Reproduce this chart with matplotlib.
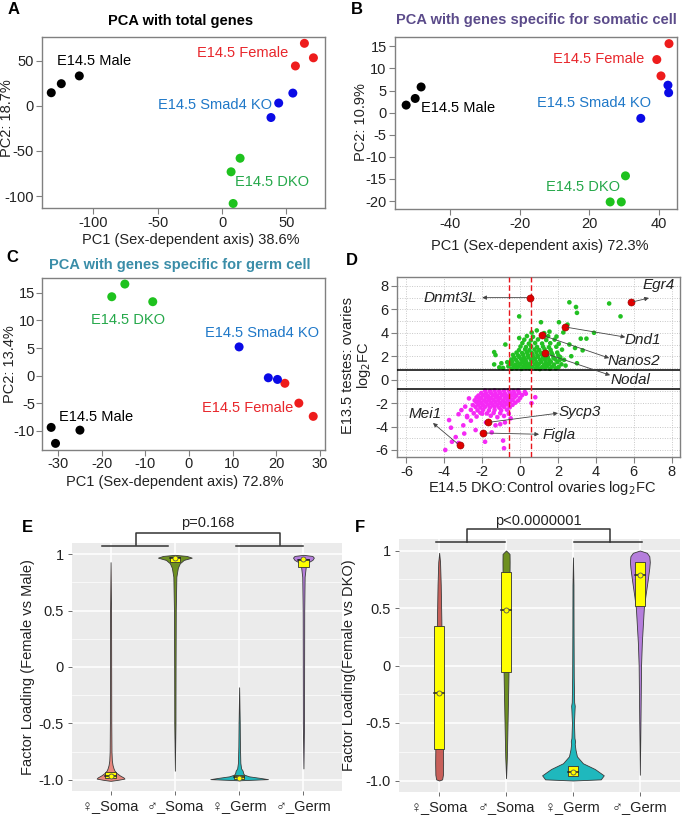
import numpy as np
import matplotlib
matplotlib.use('Agg')
import matplotlib.pyplot as plt
from matplotlib.patches import Rectangle

plt.rcParams['font.family'] = ['Liberation Sans', 'DejaVu Sans']
plt.rcParams['axes.unicode_minus'] = False

# ---------------- data ----------------
# Panel A: PCA with total genes
a_male_x = [-132.8, -125.0, -111.0]; a_male_y = [14.4, 24.4, 33.0]
a_female_x = [64.0, 71.0, 57.0];     a_female_y = [69.0, 53.0, 44.0]
a_smad4_x = [55.0, 44.0, 38.0];      a_smad4_y = [14.0, 3.0, -13.0]
a_dko_x = [14.0, 7.0, 8.6];          a_dko_y = [-58.0, -73.0, -108.0]

# Panel B: PCA somatic genes
b_male_x = [-52.6, -50.0, -48.3];    b_male_y = [1.7, 3.2, 5.8]
b_female_x = [42.9, 39.4, 40.6];     b_female_y = [15.6, 12.0, 8.3]
b_smad4_x = [42.6, 42.8, 34.8];      b_smad4_y = [6.2, 4.5, -1.3]
b_dko_x = [30.4, 26.0, 29.2];        b_dko_y = [-14.3, -20.2, -20.2]

# Panel C: PCA germ genes
c_male_x = [-31.6, -30.6, -25.0];    c_male_y = [-9.4, -12.3, -9.9]
c_female_x = [22.0, 25.2, 28.5];     c_female_y = [-1.4, -5.0, -7.4]
c_smad4_x = [11.5, 18.2, 20.3];      c_smad4_y = [5.2, -0.4, -0.7]
c_dko_x = [-17.7, -14.7, -8.3];      c_dko_y = [14.3, 16.6, 13.4]

# Panel D: scatter of log2FC
d_up_points = [
    (-0.45,0.93),(-0.18,0.97),(0.07,0.92),(0.31,0.99),(0.52,0.94),(0.83,0.96),(1.04,0.91),(1.33,0.98),(1.57,0.93),(1.88,0.97),
    (-0.62,1.14),(-0.33,1.08),(-0.08,1.16),(0.17,1.10),(0.42,1.15),(0.63,1.07),(0.92,1.13),(1.17,1.09),(1.42,1.16),(1.68,1.11),(2.03,1.08),
    (-0.48,1.31),(-0.27,1.27),(0.02,1.33),(0.24,1.28),(0.51,1.34),(0.77,1.29),(0.98,1.32),(1.27,1.26),(1.52,1.33),(1.79,1.29),(2.18,1.31),
    (-0.68,1.49),(-0.42,1.53),(-0.13,1.47),(0.12,1.52),(0.33,1.48),(0.62,1.54),(0.86,1.49),(1.12,1.51),(1.36,1.46),(1.62,1.53),(1.97,1.50),
    (-0.47,1.72),(-0.21,1.68),(0.06,1.73),(0.29,1.67),(0.56,1.71),(0.79,1.74),(1.06,1.69),(1.31,1.72),(1.54,1.66),(1.86,1.73),(2.32,1.69),
    (-0.31,1.88),(-0.04,1.93),(0.21,1.87),(0.44,1.92),(0.71,1.89),(0.96,1.94),(1.21,1.88),(1.46,1.91),(1.76,1.86),(2.12,1.92),
    (-0.38,2.11),(-0.11,2.07),(0.16,2.13),(0.41,2.08),(0.66,2.12),(0.91,2.06),(1.16,2.14),(1.41,2.09),(1.71,2.12),(2.02,2.07),
    (-0.19,2.31),(0.11,2.27),(0.36,2.33),(0.61,2.28),(0.86,2.32),(1.11,2.26),(1.38,2.34),(1.66,2.29),(1.96,2.31),
    (-0.06,2.52),(0.26,2.58),(0.49,2.51),(0.76,2.57),(1.01,2.53),(1.29,2.59),(1.61,2.54),(2.21,2.56),
    (0.02,2.83),(0.31,2.78),(0.58,2.84),(0.89,2.79),(1.21,2.82),(1.52,2.77),(1.91,2.81),
    (0.12,3.12),(0.46,3.07),(0.79,3.13),(1.16,3.08),(1.59,3.11),(2.04,3.06),
    (0.22,3.41),(0.57,3.36),(0.94,3.43),(1.38,3.38),(1.82,3.42),
    (0.36,3.72),(0.68,3.66),(1.48,3.71),(1.92,3.68),(-0.05,3.55),
    (0.61,4.02),(1.27,3.97),(2.28,4.03),(0.88,4.2),(1.55,4.1),
    (-1.37,2.35),(-1.3,2.1),(-0.78,3.0),(-0.99,1.4),(-1.37,1.3),(-0.05,5.4),(1.1,4.9),(2.05,4.9),
    (2.6,6.6),(2.95,6.2),(3.0,5.7),(3.9,4.0),(4.7,6.5),(5.3,5.4),(3.0,1.4),(3.3,2.5),(2.1,1.7),
    (2.5,4.7),(3.5,3.5),(3.2,3.5),(2.7,2.0),(2.6,3.0),(2.4,1.2),(-0.9,1.0),(-1.1,1.05),(2.9,2.7),
]
d_down_points = [
    (-1.85,-0.93),(-1.6,-0.97),(-1.35,-0.92),(-1.1,-0.98),(-0.85,-0.94),(-0.6,-0.9),(-0.35,-0.96),(-0.1,-0.92),(0.25,-1.05),
    (-2.05,-1.14),(-1.8,-1.18),(-1.55,-1.12),(-1.3,-1.17),(-1.05,-1.13),(-0.8,-1.19),(-0.55,-1.11),(-0.3,-1.16),(-0.05,-1.12),(0.3,-1.2),
    (-2.2,-1.36),(-1.95,-1.32),(-1.7,-1.38),(-1.45,-1.33),(-1.2,-1.37),(-0.95,-1.31),(-0.7,-1.39),(-0.45,-1.34),(-0.2,-1.36),(0.1,-1.33),
    (-2.3,-1.52),(-2.05,-1.57),(-1.8,-1.53),(-1.55,-1.58),(-1.3,-1.51),(-1.05,-1.56),(-0.8,-1.54),(-0.55,-1.59),(-0.3,-1.52),(0.0,-1.56),(0.8,-1.5),
    (-2.4,-1.77),(-2.15,-1.73),(-1.9,-1.78),(-1.65,-1.72),(-1.4,-1.76),(-1.15,-1.74),(-0.9,-1.79),(-0.65,-1.71),(-0.4,-1.75),(-0.1,-1.78),
    (-2.3,-1.94),(-2.05,-1.98),(-1.8,-1.92),(-1.55,-1.97),(-1.3,-1.93),(-1.05,-1.99),(-0.8,-1.95),(-0.55,-1.91),(-0.25,-1.96),(0.6,-2.0),
    (-2.5,-2.17),(-2.2,-2.13),(-1.95,-2.18),(-1.7,-2.12),(-1.45,-2.16),(-1.2,-2.14),(-0.95,-2.19),(-0.7,-2.11),(-0.4,-2.15),
    (-2.35,-2.33),(-2.1,-2.38),(-1.85,-2.32),(-1.6,-2.37),(-1.35,-2.34),(-1.1,-2.39),(-0.85,-2.31),(-0.55,-2.36),
    (-2.6,-2.58),(-2.25,-2.62),(-1.95,-2.57),(-1.65,-2.63),(-1.35,-2.59),(-1.0,-2.61),(-0.7,-2.56),
    (-2.45,-2.87),(-2.1,-2.83),(-1.75,-2.88),(-1.4,-2.84),(-1.05,-2.86),(-0.6,-2.9),
    (-2.8,-3.1),(-2.3,-3.15),(-1.55,-3.08),(-1.2,-3.2),(-0.85,-3.1),
    (-2.2,-1.5),(-2.3,-1.9),(-3.75,-3.45),(-3.65,-4.1),(-3.4,-4.9),(-3.95,-6.0),(-2.95,-4.6),
    (-2.35,-4.3),(-1.8,-3.65),(-0.8,-3.65),(-0.85,-5.85),(-0.9,-5.2),(-1.3,-3.9),(-1.05,-3.8),
    (-3.25,-2.95),(-3.1,-2.6),(-2.8,-3.2),(-2.6,-3.5),(-2.0,-2.9),(-3.6,-5.3),(-1.85,-5.3),
    (-3.25,-5.4),(-2.9,-2.3),(-2.7,-1.6),(-3.0,-3.9),(-1.5,-4.5),(-0.5,-3.3),
]
d_genes = ['Dnmt3L', 'Egr4', 'Dnd1', 'Nanos2', 'Nodal', 'Sycp3', 'Figla', 'Mei1']
d_gene_x = [0.5, 5.85, 2.35, 1.15, 1.3, -1.7, -1.95, -3.2]
d_gene_y = [7.0, 6.6, 4.5, 3.8, 2.25, -3.65, -4.55, -5.6]
d_fc_x_cut = 0.58
d_fc_y_cut = 0.81

# Panels E/F: violin density profiles (half widths, in px)
cats = ['\u2640_Soma', '\u2642_Soma', '\u2640_Germ', '\u2642_Germ']
e_fs_y = [-1.01, -1.0, -0.99, -0.98, -0.96, -0.94, -0.92, -0.9, -0.87, -0.83, -0.75, -0.5, 0.0, 0.5, 0.93]
e_fs_d = [0, 8, 14, 13, 9, 6, 4, 3, 2, 1.3, 0.9, 0.7, 0.6, 0.5, 0]
e_ms_y = [-0.92, -0.5, 0, 0.5, 0.8, 0.88, 0.92, 0.95, 0.97, 0.985, 0.995]
e_ms_d = [0, 0.6, 0.7, 0.9, 1.5, 3, 5, 9, 17, 12, 0]
e_fg_y = [-1.005, -0.995, -0.985, -0.97, -0.955, -0.94, -0.92, -0.9, -0.85, -0.7, -0.5, -0.18]
e_fg_d = [0, 29, 22, 10, 5, 4, 3.5, 2, 1.2, 0.8, 0.6, 0]
e_mg_y = [-0.9, -0.5, 0, 0.5, 0.8, 0.9, 0.93, 0.95, 0.97, 0.985, 0.995]
e_mg_d = [0, 0.6, 0.7, 0.8, 1.2, 2.5, 5, 9, 10.5, 9, 0]
e_q1 = [-0.985, 0.93, -0.99, 0.885]
e_q3 = [-0.93, 0.98, -0.96, 0.96]
e_med = [-0.97, 0.965, -0.98, 0.945]
e_mean = [-0.965, 0.965, -0.985, 0.955]
e_p = 'p=0.168'

f_fs_y = [-1.0, -0.99, -0.95, -0.85, -0.7, -0.4, 0, 0.4, 0.7, 0.9, 0.98]
f_fs_d = [0, 3, 3.8, 4, 3.8, 3.3, 2.8, 2.2, 1.6, 0.9, 0]
f_ms_y = [-0.98, -0.8, -0.5, -0.2, 0, 0.3, 0.6, 0.8, 0.9, 0.97, 1.0]
f_ms_d = [0, 0.8, 1.5, 2.2, 2.6, 3, 3.3, 3.5, 3.6, 3.5, 0]
f_fg_y = [-1.0, -0.99, -0.955, -0.9, -0.85, -0.79, -0.73, -0.68, -0.66, -0.63, -0.5, -0.38, -0.35, -0.32, -0.1, 0.3, 0.7, 0.94]
f_fg_d = [0, 28, 31, 22, 10, 4, 2.5, 1.8, 2.2, 1.5, 1.0, 1.6, 1.8, 1.2, 0.8, 0.6, 0.5, 0]
f_mg_y = [-0.95, -0.5, 0, 0.2, 0.35, 0.5, 0.6, 0.75, 0.85, 0.9, 0.95, 0.98, 1.0]
f_mg_d = [0, 0.6, 1.2, 2, 3, 4, 5.5, 8, 9.5, 10, 9.5, 7, 0]
f_q1 = [-0.73, -0.06, -0.96, 0.515]
f_q3 = [0.34, 0.81, -0.87, 0.90]
f_med = [-0.235, 0.48, -0.93, 0.79]
f_mean = [-0.235, 0.48, -0.93, 0.79]
f_p = 'p<0.0000001'

# ---------------- figure ----------------
W, H = 684, 815
fig = plt.figure(figsize=(W / 100, H / 100), dpi=100)


def rect(l, t, r, b):
    return [l / W, 1 - b / H, (r - l) / W, (b - t) / H]


def ftext(x, y, s, **kw):
    fig.text(x / W, 1 - y / H, s, **kw)


C_BLACK = '#000000'
C_RED = '#EE1C1C'
C_BLUE = '#0A0AE6'
C_GREEN = '#1EC21E'
L_RED = '#E8262B'
L_BLUE = '#1F78C8'
L_GREEN = '#25A84A'
TXT = '#222222'


def style_box(ax, pad=2):
    for s in ax.spines.values():
        s.set_color('#808080')
        s.set_linewidth(1.0)
    ax.tick_params(direction='out', length=4, width=0.8, color='#808080',
                   labelsize=10.5, pad=pad, labelcolor=TXT)


def pca(ax, groups, labels, pad=2):
    for (gx, gy, col) in groups:
        ax.scatter(gx, gy, s=42, color=col, edgecolors='none', zorder=3)
    for (tx, ty, s, col, ha) in labels:
        ax.text(tx, ty, s, color=col, fontsize=10.5, ha=ha, va='center')
    style_box(ax, pad)


# ---- Panel A
axA = fig.add_axes(rect(42, 37, 325, 208))
pca(axA, [(a_male_x, a_male_y, C_BLACK), (a_female_x, a_female_y, C_RED),
          (a_smad4_x, a_smad4_y, C_BLUE), (a_dko_x, a_dko_y, C_GREEN)],
    [(-128.5, 50, 'E14.5 Male', C_BLACK, 'left'),
     (51.6, 57.8, 'E14.5 Female', L_RED, 'right'),
     (39, 1.1, 'E14.5 Smad4 KO', L_BLUE, 'right'),
     (10.2, -84.4, 'E14.5 DKO', L_GREEN, 'left')])
axA.set_xlim(-140, 80); axA.set_ylim(-113, 76)
axA.set_xticks([-100, -50, 0, 50]); axA.set_yticks([-100, -50, 0, 50])
ftext(181, 21, 'PCA with total genes', fontsize=10.5, fontweight='bold', ha='center', va='center')
ftext(7, 118, 'PC2: 18.7%', fontsize=10.5, rotation=90, ha='center', va='center', color=TXT)
ftext(191, 240, 'PC1 (Sex-dependent axis) 38.6%', fontsize=10.5, ha='center', va='center', color=TXT)


# ---- Panel B (axis with compressed centre segment)
def fwd(x):
    x = np.asarray(x, float)
    return np.where(x <= -20, x, np.where(x >= 20, x - 20, -20 + (x + 20) / 2))


def inv(u):
    u = np.asarray(u, float)
    return np.where(u <= -20, u, np.where(u >= 0, u + 20, -20 + 2 * (u + 20)))


axB = fig.add_axes(rect(395, 37, 677, 209))
axB.set_xscale('function', functions=(fwd, inv))
pca(axB, [(b_male_x, b_male_y, C_BLACK), (b_female_x, b_female_y, C_RED),
          (b_smad4_x, b_smad4_y, C_BLUE), (b_dko_x, b_dko_y, C_GREEN)],
    [(-48.3, 1.0, 'E14.5 Male', C_BLACK, 'left'),
     (35.7, 12.1, 'E14.5 Female', L_RED, 'right'),
     (37.7, 2.1, 'E14.5 Smad4 KO', L_BLUE, 'right'),
     (28.9, -16.9, 'E14.5 DKO', L_GREEN, 'right')])
axB.set_xlim(-55.8, 45.2); axB.set_ylim(-21.8, 17.1)
axB.set_xticks([-40, -20, 20, 40]); axB.set_xticks([], minor=True)
axB.set_xticklabels(['-40', '-20', '20', '40'])
axB.set_yticks([-20, -15, -10, -5, 0, 5, 10, 15])
ftext(536, 20, 'PCA with genes specific for somatic cell', fontsize=10.5, fontweight='bold',
      ha='center', va='center', color='#5B4B8A')
ftext(361, 122, 'PC2: 10.9%', fontsize=10.5, rotation=90, ha='center', va='center', color=TXT)
ftext(540, 246, 'PC1 (Sex-dependent axis) 72.3%', fontsize=10.5, ha='center', va='center', color=TXT)

# ---- Panel C
axC = fig.add_axes(rect(42, 278, 325, 450))
pca(axC, [(c_male_x, c_male_y, C_BLACK), (c_female_x, c_female_y, C_RED),
          (c_smad4_x, c_smad4_y, C_BLUE), (c_dko_x, c_dko_y, C_GREEN)],
    [(-29.8, -7.5, 'E14.5 Male', C_BLACK, 'left'),
     (23.9, -5.9, 'E14.5 Female', L_RED, 'right'),
     (29.8, 7.7, 'E14.5 Smad4 KO', L_BLUE, 'right'),
     (-14.0, 10.1, 'E14.5 DKO', L_GREEN, 'center')], pad=1)
axC.set_xlim(-33.7, 31.2); axC.set_ylim(-13.5, 17.7)
axC.set_xticks([-30, -20, -10, 0, 10, 20, 30]); axC.set_yticks([-10, -5, 0, 5, 10, 15])
ftext(180, 265, 'PCA with genes specific for germ cell', fontsize=10.5, fontweight='bold',
      ha='center', va='center', color='#3A8DA8')
ftext(10, 364, 'PC2: 13.4%', fontsize=10.5, rotation=90, ha='center', va='center', color=TXT)
ftext(175, 482, 'PC1 (Sex-dependent axis) 72.8%', fontsize=10.5, ha='center', va='center', color=TXT)

# ---- Panel D
axD = fig.add_axes(rect(397, 277, 680, 457))
up = np.array(d_up_points); dn = np.array(d_down_points)
axD.scatter(up[:, 0], up[:, 1], s=11, color='#22C022', edgecolors='none', zorder=3)
axD.scatter(dn[:, 0], dn[:, 1], s=11, color='#F52AF5', edgecolors='none', zorder=3)
axD.scatter(d_gene_x, d_gene_y, s=26, color='#E00000', edgecolors='#900000', linewidths=0.4, zorder=5)
axD.axhline(d_fc_y_cut, color='black', lw=1.1, zorder=4)
axD.axhline(-d_fc_y_cut, color='black', lw=1.1, zorder=4)
axD.axvline(d_fc_x_cut, color='#E8141B', lw=1.0, ls=(0, (4, 2)), zorder=4)
axD.axvline(-d_fc_x_cut, color='#E8141B', lw=1.0, ls=(0, (4, 2)), zorder=4)
axD.set_xlim(-6.5, 8.44); axD.set_ylim(-6.6, 8.76)
axD.set_xticks([-6, -4, -2, 0, 2, 4, 6, 8]); axD.set_yticks([-6, -4, -2, 0, 2, 4, 6, 8])
axD.set_yticks(np.arange(-6, 9, 1), minor=True)
axD.grid(True, which='major', color='#C8C8C8', ls=(0, (1, 1.5)), lw=0.7)
axD.grid(True, which='minor', axis='y', color='#C8C8C8', ls=(0, (1, 1.5)), lw=0.7)
axD.tick_params(which='minor', length=0)
axD.set_axisbelow(True)
style_box(axD)
# gene label positions (layout)
lab_txt = [(-3.7, 7.0), (7.3, 8.1), (6.45, 3.38), (6.0, 1.58), (5.83, -0.04), (3.15, -2.8), (2.06, -4.74), (-5.0, -2.97)]
lab_head = [(-2.0, 7.0), (6.8, 6.97), (5.55, 3.63), (4.7, 1.84), (4.75, 0.38), (2.0, -2.86), (1.0, -4.66), (-4.6, -3.7)]
for g, gx, gy, (tx, ty), (hx, hy) in zip(d_genes, d_gene_x, d_gene_y, lab_txt, lab_head):
    axD.annotate('', xy=(hx, hy), xytext=(gx, gy),
                 arrowprops=dict(arrowstyle='-|>', color='#444444', lw=0.6, mutation_scale=6,
                                 shrinkA=2, shrinkB=0), zorder=6)
    axD.text(tx, ty, g, fontsize=11, style='italic', ha='center', va='center', color=TXT, zorder=7)
ftext(357, 365, 'E13.5 testes: ovaries\nlog$_2$FC', fontsize=10.5, rotation=90, ha='center',
      va='center', multialignment='center', color=TXT, linespacing=1.05)
ftext(542, 488, 'E14.5 DKO:Control ovaries log$_2$FC', fontsize=10.5, ha='center', va='center', color=TXT)


# ---- Panels E / F
def violin_panel(rpx, spacing, profiles, colors, q1, q3, med, mean, brk, ptxt, ylabel, ylabx):
    ax = fig.add_axes(rect(*rpx))
    ax.set_facecolor('#EBEBEB')
    for s in ax.spines.values():
        s.set_visible(False)
    ax.set_xlim(0.4, 4.6); ax.set_ylim(-1.10, 1.10)
    for yv in [-0.75, -0.25, 0.25, 0.75]:
        ax.axhline(yv, color='white', lw=0.5, zorder=0)
    for yv in [-1, -0.5, 0, 0.5, 1]:
        ax.axhline(yv, color='white', lw=1.1, zorder=0)
    for xv in range(1, 5):
        ax.axvline(xv, color='white', lw=1.1, zorder=0)
    sc = 1.0 / spacing
    bw = 10.5 * sc
    for i, ((yy, dd), col) in enumerate(zip(profiles, colors)):
        pos = i + 1
        hw = np.array(dd) * sc
        ax.fill_betweenx(yy, pos - hw, pos + hw, facecolor=col, edgecolor='#3A3A3A', lw=0.6, zorder=3)
        ax.add_patch(Rectangle((pos - bw / 2, q1[i]), bw, q3[i] - q1[i], facecolor='#FFFF00',
                               edgecolor='#333333', lw=0.6, zorder=4))
        ax.plot([pos - bw / 2, pos + bw / 2], [med[i], med[i]], color='#222222', lw=1.1, zorder=5)
        ax.plot(pos, mean[i], 'o', ms=3.6, mfc='#FFFF00', mec='#555555', mew=0.6, zorder=6)
    ax.set_xticks([1, 2, 3, 4]); ax.set_xticklabels(cats)
    ax.set_yticks([-1, -0.5, 0, 0.5, 1]); ax.set_yticklabels(['-1.0', '-0.5', '0', '0.5', '1'])
    ax.tick_params(length=3, width=0.6, color='#555555', labelsize=10.5, labelcolor=TXT, pad=3)
    (g1a, g1b, g2a, g2b, yg, v1, v2, yt, ytext) = brk
    kw = dict(color='#333333', lw=1.1, clip_on=False, zorder=7)
    ax.plot([g1a, g1b], [yg, yg], **kw)
    ax.plot([g2a, g2b], [yg, yg], **kw)
    ax.plot([v1, v1, v2, v2], [yg + 0.005, yt, yt, yg + 0.005], **kw)
    ax.text((v1 + v2) / 2, ytext, ptxt, ha='center', va='center', fontsize=10.5, color=TXT)
    ftext(ylabx, (rpx[1] + rpx[3]) / 2, ylabel, fontsize=10.5, rotation=90, ha='center', va='center', color=TXT)
    return ax


axE = violin_panel((72, 543, 342, 791), 64.7,
                   [(e_fs_y, e_fs_d), (e_ms_y, e_ms_d), (e_fg_y, e_fg_d), (e_mg_y, e_mg_d)],
                   ['#E8877E', '#6E9020', '#1FB8BD', '#B57EDC'],
                   e_q1, e_q3, e_med, e_mean,
                   (0.86, 1.9, 2.95, 4.0, 1.075, 1.39, 3.63, 1.19, 1.28), e_p,
                   'Factor Loading (Female vs Male)', 28)
axF = violin_panel((399, 539, 680, 792), 67.3,
                   [(f_fs_y, f_fs_d), (f_ms_y, f_ms_d), (f_fg_y, f_fg_d), (f_mg_y, f_mg_d)],
                   ['#C8605A', '#6E9020', '#1FB8BD', '#B57EDC'],
                   f_q1, f_q3, f_med, f_mean,
                   (0.955, 1.98, 3.02, 4.03, 1.07, 1.42, 3.55, 1.19, 1.26), f_p,
                   'Factor Loading(Female vs DKO)', 349)

# panel letters
for (lx, ly, L) in [(14, 10, 'A'), (357, 10, 'B'), (12, 257, 'C'), (352, 261, 'D'), (27, 527, 'E'), (360, 527, 'F')]:
    ftext(lx, ly, L, fontsize=12, fontweight='bold', ha='center', va='center')

fig.savefig('out.png', dpi=100)
